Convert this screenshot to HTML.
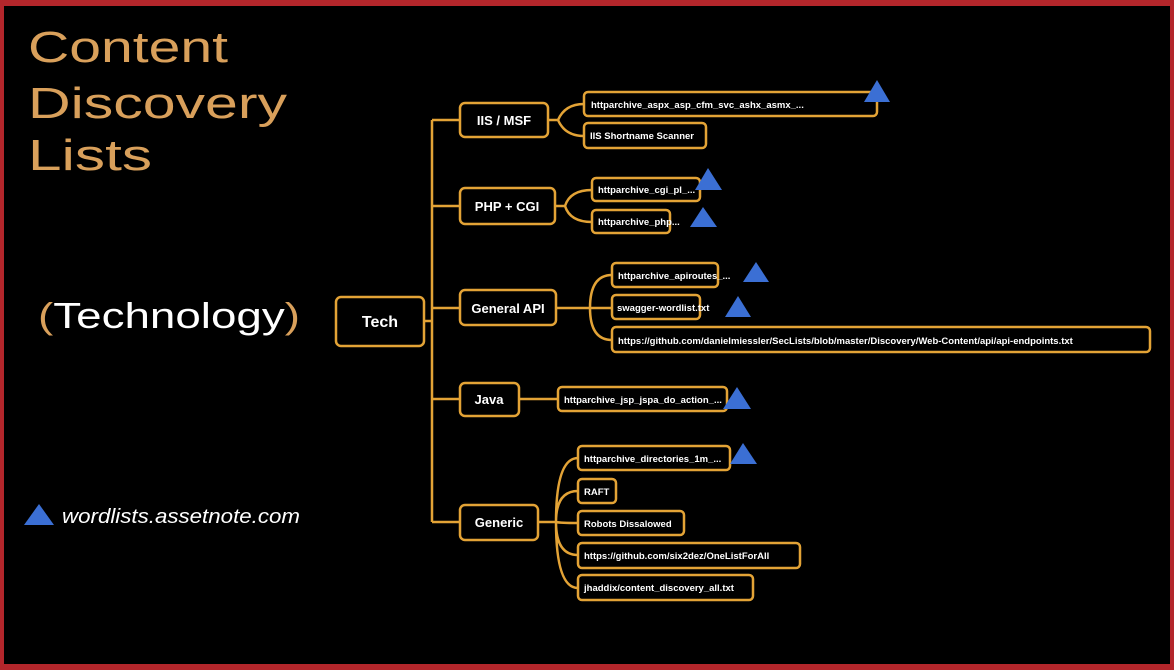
<!DOCTYPE html>
<html><head><style>
body{margin:0;width:1174px;height:670px;background:#b3262b;overflow:hidden}
#f{position:absolute;left:4px;top:6px;width:1166px;height:658px;background:#000}
svg{position:absolute;left:0;top:0}
text{font-family:"Liberation Sans",sans-serif}
</style></head><body><div id="f"></div>
<svg width="1174" height="670">
<g fill="#d9a05b" font-size="44">
<text x="28" y="62" textLength="200" lengthAdjust="spacingAndGlyphs">Content</text>
<text x="28" y="118" textLength="259" lengthAdjust="spacingAndGlyphs">Discovery</text>
<text x="28" y="170" textLength="124" lengthAdjust="spacingAndGlyphs">Lists</text>
</g>
<text x="38" y="328" font-size="36" fill="#fff" textLength="262" lengthAdjust="spacingAndGlyphs"><tspan fill="#d9a05b">(</tspan>Technology<tspan fill="#d9a05b">)</tspan></text>
<polygon points="24,525 39,504 54,525" fill="#3b6fd4"/>
<text x="62" y="523" font-size="20" font-style="italic" fill="#fff" textLength="238" lengthAdjust="spacingAndGlyphs">wordlists.assetnote.com</text>
<g fill="none" stroke="#e3a336" stroke-width="2.5">
<path d="M424 321H432M432 120V522M432 120H460M432 206H460M432 308H460M432 399H460M432 522H460"/>
<path d="M548 120H558M558 120Q565 104 584 104M558 120Q565 136 584 136"/>
<path d="M555 206H565M565 206Q570 190 592 190M565 206Q570 222 592 222"/>
<path d="M556 308H590M590 308Q590 275 612 275M590 308H612M590 308Q590 340 612 340"/>
<path d="M519 399H558"/>
<path d="M538 522H556M556 522Q556 458 578 458M556 522Q556 491 578 491M556 522Q560 523 578 523M556 522Q556 555 578 555M556 522Q556 588 578 588"/>
<rect x="336" y="297" width="88" height="49" rx="5"/>
<rect x="460" y="103" width="88" height="34" rx="5"/>
<rect x="460" y="188" width="95" height="36" rx="5"/>
<rect x="460" y="290" width="96" height="35" rx="5"/>
<rect x="460" y="383" width="59" height="33" rx="5"/>
<rect x="460" y="505" width="78" height="35" rx="5"/>
<rect x="584" y="92" width="293" height="24" rx="4"/>
<rect x="584" y="123" width="122" height="25" rx="4"/>
<rect x="592" y="178" width="108" height="23" rx="4"/>
<rect x="592" y="210" width="78" height="23" rx="4"/>
<rect x="612" y="263" width="106" height="24" rx="4"/>
<rect x="612" y="295" width="88" height="24" rx="4"/>
<rect x="612" y="327" width="538" height="25" rx="4"/>
<rect x="558" y="387" width="169" height="24" rx="4"/>
<rect x="578" y="446" width="152" height="24" rx="4"/>
<rect x="578" y="479" width="38" height="24" rx="4"/>
<rect x="578" y="511" width="106" height="24" rx="4"/>
<rect x="578" y="543" width="222" height="25" rx="4"/>
<rect x="578" y="575" width="175" height="25" rx="4"/>
</g>
<g fill="#fff" font-weight="bold">
<text x="380" y="327" font-size="16" text-anchor="middle">Tech</text>
<g font-size="13" text-anchor="middle">
<text x="504" y="125">IIS / MSF</text>
<text x="507" y="211">PHP + CGI</text>
<text x="508" y="313">General API</text>
<text x="489" y="404">Java</text>
<text x="499" y="527">Generic</text>
</g>
<g font-size="9.5">
<text x="591" y="108">httparchive_aspx_asp_cfm_svc_ashx_asmx_...</text>
<text x="590" y="139">IIS Shortname Scanner</text>
<text x="598" y="193">httparchive_cgi_pl_...</text>
<text x="598" y="225">httparchive_php...</text>
<text x="618" y="279">httparchive_apiroutes_...</text>
<text x="617" y="311">swagger-wordlist.txt</text>
<text x="618" y="344">https://github.com/danielmiessler/SecLists/blob/master/Discovery/Web-Content/api/api-endpoints.txt</text>
<text x="564" y="403">httparchive_jsp_jspa_do_action_...</text>
<text x="584" y="462">httparchive_directories_1m_...</text>
<text x="584" y="495">RAFT</text>
<text x="584" y="527">Robots Dissalowed</text>
<text x="584" y="559">https://github.com/six2dez/OneListForAll</text>
<text x="584" y="591">jhaddix/content_discovery_all.txt</text>
</g>
</g>
<g fill="#3b6fd4">
<polygon points="864,102 877,80 890,102"/>
<polygon points="695,190 708,168 722,190"/>
<polygon points="690,227 703,207 717,227"/>
<polygon points="743,282 756,262 769,282"/>
<polygon points="725,317 738,296 751,317"/>
<polygon points="723,409 737,387 751,409"/>
<polygon points="730,464 743,443 757,464"/>
</g>
</svg>
</body></html>
